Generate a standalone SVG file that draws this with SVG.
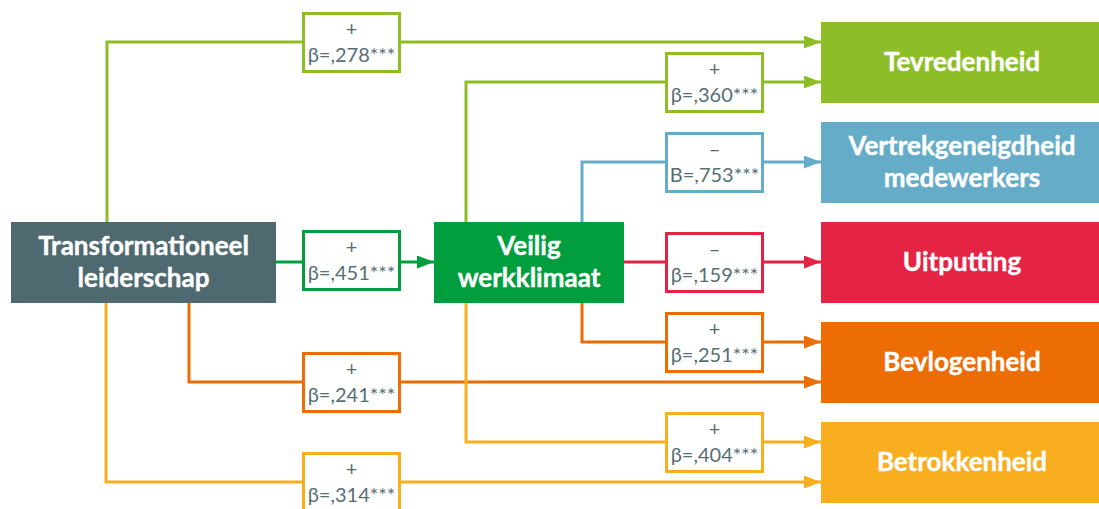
<svg xmlns="http://www.w3.org/2000/svg" width="1099" height="509" viewBox="0 0 1099 509">
<style>
.node text{font-family:Lato,"Source Sans Pro","Liberation Sans",sans-serif;font-weight:700;font-size:26px;fill:#fff;text-anchor:middle;stroke:#fff;stroke-width:0.4px}
.lbl rect{fill:#fff;stroke-width:3}
.lbl text{font-family:Lato,"Liberation Sans",sans-serif;font-size:20px;fill:#586e75;text-anchor:middle}
.conn path{fill:none;stroke-width:3}
</style>
<defs>
<marker id="aLg" markerUnits="userSpaceOnUse" markerWidth="17" markerHeight="13" refX="17" refY="6.5" orient="auto"><path d="M0,0L17,6.5L0,13z" fill="#8dbe27"/></marker>
<marker id="aBl" markerUnits="userSpaceOnUse" markerWidth="17" markerHeight="13" refX="17" refY="6.5" orient="auto"><path d="M0,0L17,6.5L0,13z" fill="#64acc8"/></marker>
<marker id="aRd" markerUnits="userSpaceOnUse" markerWidth="17" markerHeight="13" refX="17" refY="6.5" orient="auto"><path d="M0,0L17,6.5L0,13z" fill="#e52345"/></marker>
<marker id="aOr" markerUnits="userSpaceOnUse" markerWidth="17" markerHeight="13" refX="17" refY="6.5" orient="auto"><path d="M0,0L17,6.5L0,13z" fill="#ec6c05"/></marker>
<marker id="aYe" markerUnits="userSpaceOnUse" markerWidth="17" markerHeight="13" refX="17" refY="6.5" orient="auto"><path d="M0,0L17,6.5L0,13z" fill="#f8ae1e"/></marker>
<marker id="aDg" markerUnits="userSpaceOnUse" markerWidth="17" markerHeight="13" refX="17" refY="6.5" orient="auto"><path d="M0,0L17,6.5L0,13z" fill="#009e3d"/></marker>
</defs>
<rect width="1099" height="509" fill="#fff"/>
<g id="connectors" class="conn">
<path d="M107,222V42H821" stroke="#8dbe27" marker-end="url(#aLg)"/>
<path d="M466,222V82H821" stroke="#8dbe27" marker-end="url(#aLg)"/>
<path d="M582,222V162H821" stroke="#64acc8" marker-end="url(#aBl)"/>
<path d="M276,262H434" stroke="#009e3d" marker-end="url(#aDg)"/>
<path d="M624,262H821" stroke="#e52345" marker-end="url(#aRd)"/>
<path d="M582,302V342H821" stroke="#ec6c05" marker-end="url(#aOr)"/>
<path d="M189,302V382H821" stroke="#ec6c05" marker-end="url(#aOr)"/>
<path d="M106,302V482H821" stroke="#f8ae1e" marker-end="url(#aYe)"/>
<path d="M466,302V442H821" stroke="#f8ae1e" marker-end="url(#aYe)"/>
</g>
<g id="labels">
<g id="l278" class="lbl"><rect x="303.5" y="13.5" width="96" height="58" stroke="#8dbe27"/><text x="351.5" y="36">+</text><text x="351.5" y="62">β=,278***</text></g>
<g id="l360" class="lbl"><rect x="666.5" y="53.5" width="96" height="58" stroke="#8dbe27"/><text x="714.5" y="76">+</text><text x="714.5" y="102">β=,360***</text></g>
<g id="l753" class="lbl"><rect x="666.5" y="133.5" width="96" height="58" stroke="#64acc8"/><text x="714.5" y="156">–</text><text x="714.5" y="182">B=,753***</text></g>
<g id="l451" class="lbl"><rect x="303.5" y="231.5" width="96" height="58" stroke="#009e3d"/><text x="351.5" y="254">+</text><text x="351.5" y="280">β=,451***</text></g>
<g id="l159" class="lbl"><rect x="666.5" y="233.5" width="96" height="58" stroke="#e52345"/><text x="714.5" y="256">–</text><text x="714.5" y="282">β=,159***</text></g>
<g id="l251" class="lbl"><rect x="666.5" y="313.5" width="96" height="58" stroke="#ec6c05"/><text x="714.5" y="336">+</text><text x="714.5" y="362">β=,251***</text></g>
<g id="l241" class="lbl"><rect x="303.5" y="353.5" width="96" height="58" stroke="#ec6c05"/><text x="351.5" y="376">+</text><text x="351.5" y="402">β=,241***</text></g>
<g id="l404" class="lbl"><rect x="666.5" y="413.5" width="96" height="58" stroke="#f8ae1e"/><text x="714.5" y="436">+</text><text x="714.5" y="462">β=,404***</text></g>
<g id="l314" class="lbl"><rect x="303.5" y="453.5" width="96" height="70" stroke="#f8ae1e"/><text x="351.5" y="476">+</text><text x="351.5" y="502">β=,314***</text></g>
</g>
<g id="n-transf" class="node"><rect x="11" y="222" width="265" height="81" fill="#4e6a70"/><text x="143.5" y="255">Transformationeel</text><text x="143.5" y="287">leiderschap</text></g>
<g id="n-veilig" class="node"><rect x="434" y="222" width="190" height="81" fill="#009e3d"/><text x="529" y="255">Veilig</text><text x="529" y="287">werkklimaat</text></g>
<g id="n-tevr" class="node"><rect x="821" y="22" width="278" height="81" fill="#8dbe27"/><text x="962" y="71">Tevredenheid</text></g>
<g id="n-vertrek" class="node"><rect x="821" y="122" width="278" height="81" fill="#64acc8"/><text x="962" y="155">Vertrekgeneigdheid</text><text x="962" y="187">medewerkers</text></g>
<g id="n-uitp" class="node"><rect x="821" y="222" width="278" height="81" fill="#e52345"/><text x="962" y="271">Uitputting</text></g>
<g id="n-bevl" class="node"><rect x="821" y="322" width="278" height="81" fill="#ec6c05"/><text x="962" y="371">Bevlogenheid</text></g>
<g id="n-betr" class="node"><rect x="821" y="422" width="278" height="81" fill="#f8ae1e"/><text x="962" y="471">Betrokkenheid</text></g>
</svg>
